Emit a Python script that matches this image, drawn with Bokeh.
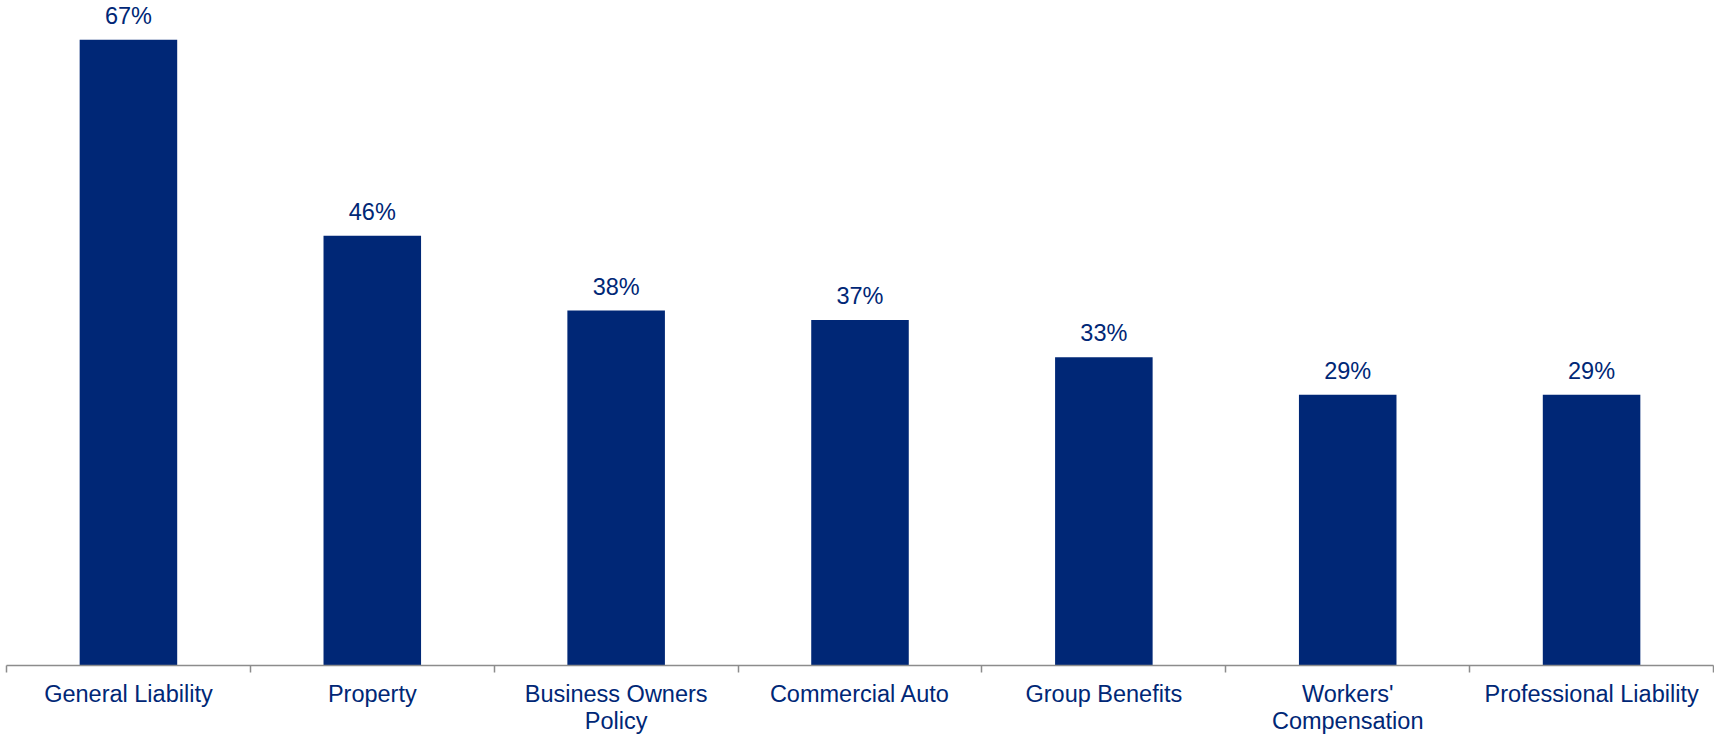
from bokeh.plotting import figure
from bokeh.models import ColumnDataSource, FixedTicker, Range1d, LabelSet
from bokeh.core.properties import value
from bokeh.embed import file_html
from bokeh.resources import INLINE

categories = ["General Liability", "Property", "Business Owners\nPolicy", "Commercial Auto",
              "Group Benefits", "Workers'\nCompensation", "Professional Liability"]
values = [67, 46, 38, 37, 33, 29, 29]

NAVY = "#002776"
FONT = "Liberation Sans"

xs = list(range(len(categories)))
src = ColumnDataSource(dict(x=xs, top=values, label=[f"{v}%" for v in values]))

p = figure(frame_width=1707, frame_height=665, output_backend="svg", toolbar_location=None,
           x_range=Range1d(-0.5, len(categories) - 0.5), y_range=Range1d(0, 71.2),
           min_border_left=6, min_border_right=1, min_border_top=0, min_border_bottom=0)
p.vbar(x="x", top="top", bottom=0, width=0.4, source=src, fill_color=NAVY, line_color=None)

labels = LabelSet(x="x", y="top", text="label", source=src, text_align="center",
                  text_baseline="alphabetic", y_offset=16, text_color=NAVY,
                  text_font=value(FONT), text_font_size=value("23.5px"))
p.add_layout(labels)

p.yaxis.visible = False
p.grid.visible = False
p.outline_line_color = None

ax = p.xaxis[0]
ax.ticker = FixedTicker(ticks=xs, minor_ticks=[i - 0.5 for i in range(len(categories) + 1)])
ax.major_label_overrides = {i: c for i, c in enumerate(categories)}
ax.major_tick_line_color = None
ax.major_tick_out = 0
ax.major_tick_in = 0
ax.minor_tick_out = 7
ax.minor_tick_in = 0
ax.minor_tick_line_color = "#8c8c8c"
ax.minor_tick_line_width = 1.5
ax.axis_line_color = "#8c8c8c"
ax.axis_line_width = 1.5
ax.major_label_text_color = NAVY
ax.major_label_text_font = FONT
ax.major_label_text_font_size = "23.5px"
ax.major_label_text_line_height = 1.05
ax.major_label_standoff = 8

open("out.html", "w").write(file_html(p, INLINE))
